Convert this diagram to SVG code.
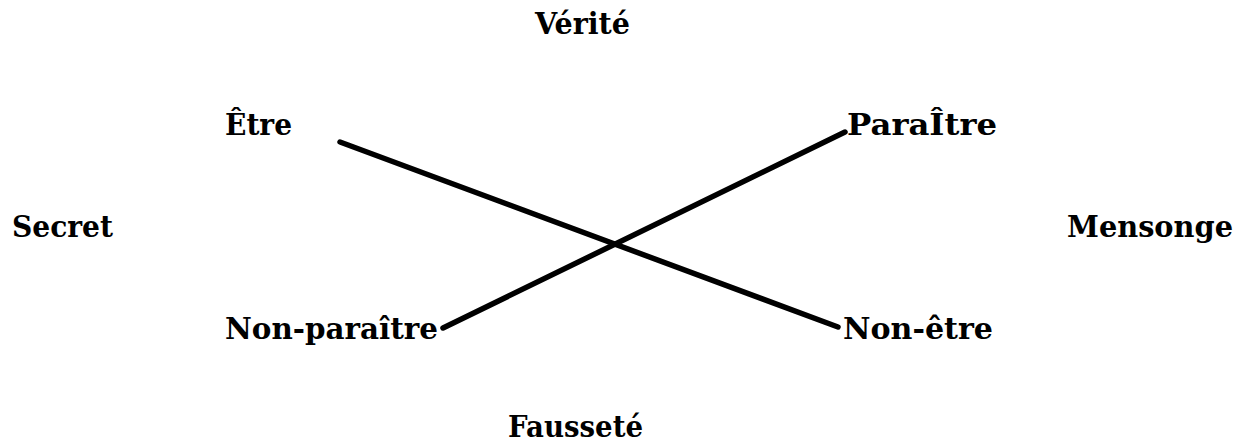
<svg xmlns="http://www.w3.org/2000/svg" width="1250" height="446" viewBox="0 0 1250 446">
<style>
text{font-family:"DejaVu Serif","Liberation Serif",serif;font-weight:bold;font-size:29px;fill:#000}
.c{stroke:#000;stroke-width:5.5;stroke-linecap:round;fill:none}
</style>
<rect width="1250" height="446" fill="#fff"/>
<g id="connectors">
<line class="c" x1="340" y1="142" x2="838" y2="327"/>
<line class="c" x1="443" y1="328" x2="845" y2="132"/>
</g>
<g id="verite"><text x="535" y="34" textLength="95" lengthAdjust="spacingAndGlyphs">Vérité</text></g>
<g id="etre"><text x="225" y="135" textLength="67" lengthAdjust="spacingAndGlyphs">Être</text></g>
<g id="paraitre"><text x="847" y="135" textLength="150" lengthAdjust="spacingAndGlyphs">ParaÎtre</text></g>
<g id="secret"><text x="12" y="237" textLength="101" lengthAdjust="spacingAndGlyphs">Secret</text></g>
<g id="mensonge"><text x="1067" y="237" textLength="166" lengthAdjust="spacingAndGlyphs">Mensonge</text></g>
<g id="non-paraitre"><text x="225" y="339" textLength="213" lengthAdjust="spacingAndGlyphs">Non-paraître</text></g>
<g id="non-etre"><text x="843" y="339" textLength="150" lengthAdjust="spacingAndGlyphs">Non-être</text></g>
<g id="faussete"><text x="508" y="437" textLength="135" lengthAdjust="spacingAndGlyphs">Fausseté</text></g>
</svg>
